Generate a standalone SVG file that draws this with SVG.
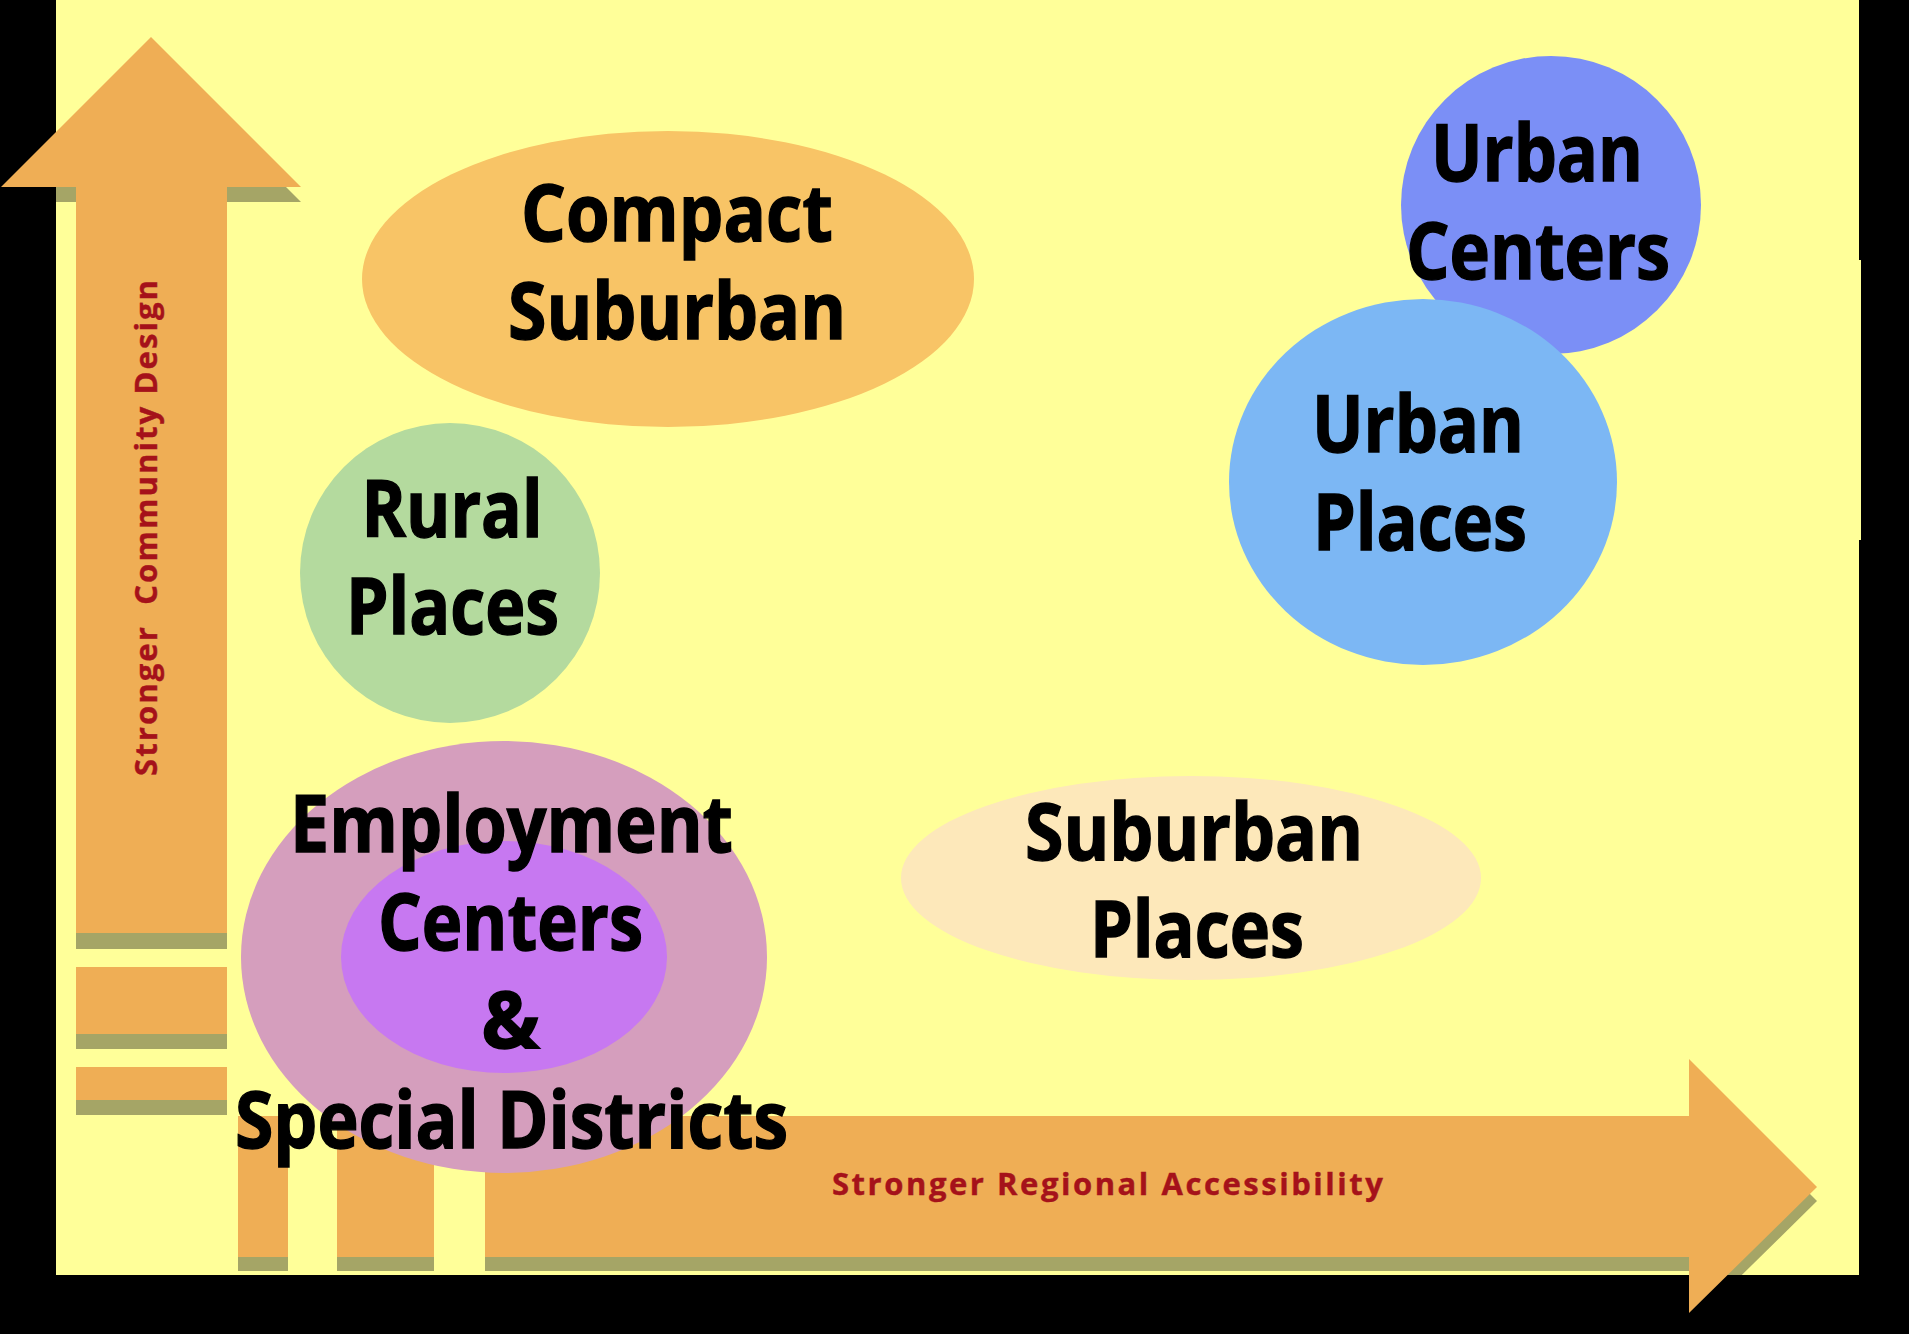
<svg xmlns="http://www.w3.org/2000/svg" width="1909" height="1334" viewBox="0 0 1909 1334">
<defs>
<style>
.lbl{font-family:"Open Sans","Noto Sans","DejaVu Sans",sans-serif;font-weight:700;font-size:78px;fill:#000;stroke:#000;stroke-width:1.4px;text-anchor:middle}
.ax{font-family:"Open Sans","Noto Sans","DejaVu Sans",sans-serif;font-weight:700;font-size:31px;fill:#A5121A;stroke:#A5121A;stroke-width:0.4px;text-anchor:middle}
.arr{fill:#EFAE55}
.shd{fill:#A5A566}
</style>
</defs>
<rect x="0" y="0" width="1909" height="1334" fill="#FFFF99"/>
<g id="axes">
  <g id="axis-shadows" class="shd">
    <polygon points="151,52 301,202 227,202 227,949 76,949 76,202 1,202"/>
    <rect x="76" y="982" width="151" height="67"/>
    <rect x="76" y="1082" width="151" height="33"/>
    <rect x="238" y="1130" width="50" height="141"/>
    <rect x="337" y="1130" width="97" height="141"/>
    <polygon points="485,1130 1689,1130 1689,1073 1817,1201 1689,1327 1689,1271 485,1271"/>
  </g>
</g>
<g id="frame" fill="#000">
  <rect x="0" y="0" width="56" height="1334"/>
  <rect x="0" y="1275" width="1909" height="59"/>
  <rect x="1859" y="0" width="50" height="1334"/>
  <rect x="1859" y="260" width="2" height="280" fill="#FFFF99"/>
</g>
<g id="axis-arrows" class="arr">
  <polygon points="151,37 301,187 227,187 227,933 76,933 76,187 1,187"/>
  <rect x="76" y="967" width="151" height="67"/>
  <rect x="76" y="1067" width="151" height="33"/>
  <rect x="238" y="1116" width="50" height="141"/>
  <rect x="337" y="1116" width="97" height="141"/>
  <polygon points="485,1116 1689,1116 1689,1059 1817,1187 1689,1313 1689,1257 485,1257"/>
</g>
<g id="axis-labels">
  <text class="ax" transform="translate(157,528) rotate(-90)" x="0" y="0" textLength="496" lengthAdjust="spacing">Stronger&#160; Community Design</text>
  <text class="ax" x="1107.5" y="1195" textLength="551" lengthAdjust="spacing">Stronger Regional Accessibility</text>
</g>
<g id="compact-suburban">
  <ellipse cx="668" cy="279" rx="306" ry="148" fill="#F8C466"/>
  <text class="lbl" x="677" y="241" textLength="312" lengthAdjust="spacingAndGlyphs">Compact</text>
  <text class="lbl" x="677" y="339" textLength="338" lengthAdjust="spacingAndGlyphs">Suburban</text>
</g>
<g id="rural-places">
  <circle cx="450" cy="573" r="150" fill="#B4DA9E"/>
  <text class="lbl" x="452" y="537" textLength="181" lengthAdjust="spacingAndGlyphs">Rural</text>
  <text class="lbl" x="452.5" y="634" textLength="213" lengthAdjust="spacingAndGlyphs">Places</text>
</g>
<g id="urban-centers">
  <ellipse cx="1551" cy="205" rx="150" ry="149" fill="#7B8FF6"/>
  <text class="lbl" x="1537" y="181" textLength="212" lengthAdjust="spacingAndGlyphs">Urban</text>
  <text class="lbl" x="1538" y="279" textLength="264" lengthAdjust="spacingAndGlyphs">Centers</text>
</g>
<g id="urban-places">
  <ellipse cx="1423" cy="482" rx="194" ry="183" fill="#7CB7F4"/>
  <text class="lbl" x="1418" y="452" textLength="212" lengthAdjust="spacingAndGlyphs">Urban</text>
  <text class="lbl" x="1420" y="550" textLength="214" lengthAdjust="spacingAndGlyphs">Places</text>
</g>
<g id="suburban-places">
  <ellipse cx="1191" cy="878" rx="290" ry="102" fill="#FDE8BA"/>
  <text class="lbl" x="1194" y="860" textLength="338" lengthAdjust="spacingAndGlyphs">Suburban</text>
  <text class="lbl" x="1197" y="957" textLength="214" lengthAdjust="spacingAndGlyphs">Places</text>
</g>
<g id="employment-centers">
  <ellipse cx="504" cy="957" rx="263" ry="216" fill="#D59EBD"/>
  <ellipse cx="504" cy="957" rx="163" ry="116" fill="#C778F1"/>
  <text class="lbl" x="511.5" y="852" textLength="443" lengthAdjust="spacingAndGlyphs">Employment</text>
  <text class="lbl" x="510.5" y="950" textLength="265" lengthAdjust="spacingAndGlyphs">Centers</text>
  <text class="lbl" x="510.5" y="1048">&amp;</text>
  <text class="lbl" x="511.5" y="1148" textLength="553" lengthAdjust="spacingAndGlyphs">Special Districts</text>
</g>
</svg>
